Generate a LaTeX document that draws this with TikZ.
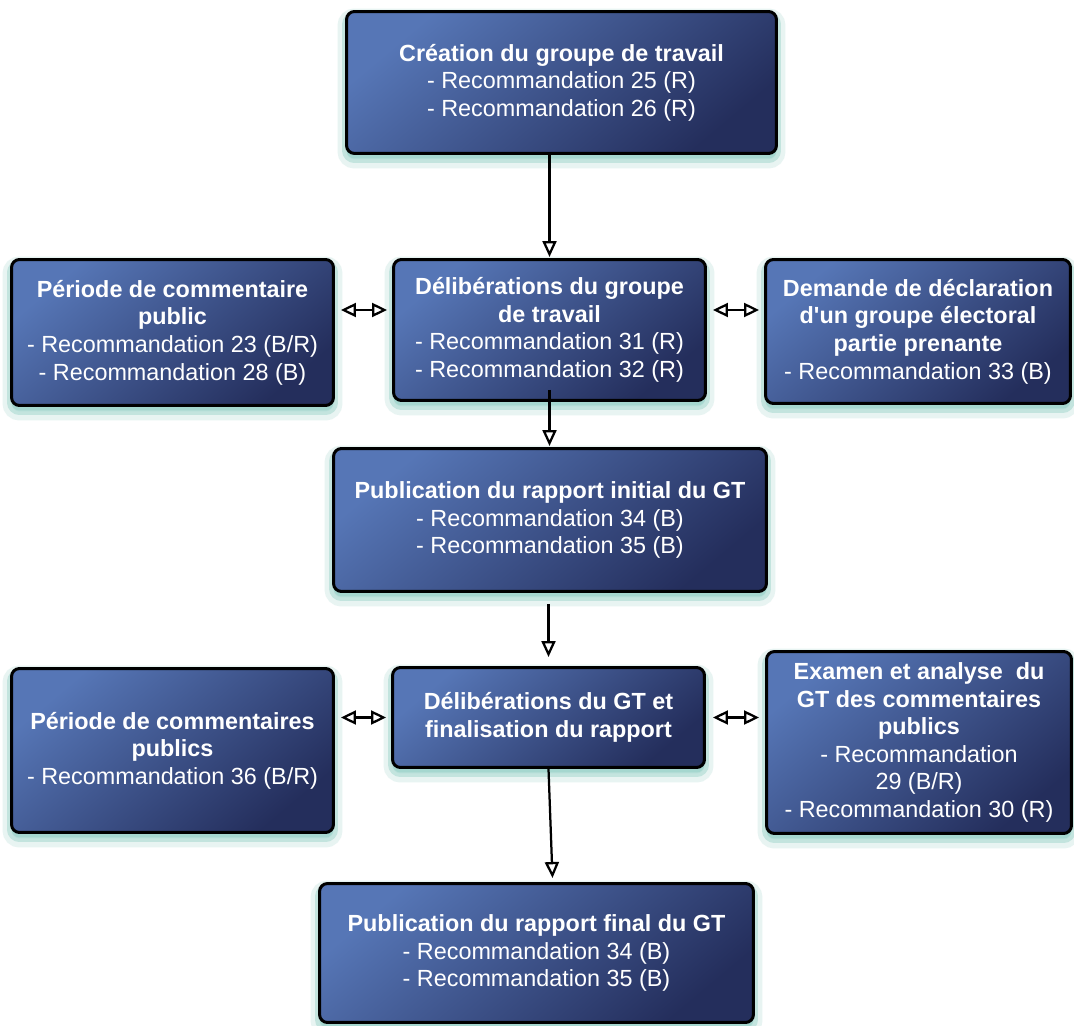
\documentclass[tikz,border=0pt]{standalone}
\usepackage{fontspec}
\setmainfont{Liberation Sans}
\usetikzlibrary{arrows.meta,shadows,calc}
\definecolor{boxA}{RGB}{86,118,182}
\definecolor{boxB}{RGB}{36,46,92}
\definecolor{glow}{RGB}{140,204,194}
\tikzset{
  box/.style={rounded corners=0.16cm, draw=black, line width=0.06cm,
    top color=boxA, bottom color=boxB, shading angle=40,
    text=white, align=center, inner sep=0pt,
    font=\fontsize{13.3}{15.7}\selectfont,
    general shadow={fill=glow, draw=glow, line width=0.36cm, opacity=0.2, shadow yshift=-0.12cm},
    general shadow={fill=glow, draw=glow, line width=0.18cm, opacity=0.4, shadow yshift=-0.1cm}},
  tip/.style={},
  conn/.style={draw=black, line width=0.045cm,
    -{Triangle[open, length=0.32cm, width=0.28cm, line width=0.045cm]}},
  dbl/.style={draw=black, line width=0.045cm,
    {Triangle[open, length=0.3cm, width=0.28cm, line width=0.045cm]}-{Triangle[open, length=0.3cm, width=0.28cm, line width=0.045cm]}}
}
\begin{document}
\begin{tikzpicture}[x=0.02cm, y=-0.02cm]
\useasboundingbox[fill=white] (0,0) rectangle (1074,1026);

\node[box, minimum width=8.60cm, minimum height=2.84cm] (crea) at (561.5,82.5)
  {\textbf{Création du groupe de travail}\\- Recommandation 25 (R)\\- Recommandation 26 (R)};
\node[box, minimum width=6.44cm, minimum height=2.92cm] (peri1) at (172.5,332.5)
  {\textbf{Période de commentaire}\\\textbf{public}\\- Recommandation 23 (B/R)\\- Recommandation 28 (B)};
\node[box, minimum width=6.24cm, minimum height=2.82cm] (delib) at (549.5,330)
  {\textbf{Délibérations du groupe}\\\textbf{de travail}\\- Recommandation 31 (R)\\- Recommandation 32 (R)};
\node[box, minimum width=6.10cm, minimum height=2.88cm] (dem) at (918,331.5)
  {\textbf{Demande de déclaration}\\\textbf{d\textquotesingle un groupe électoral}\\\textbf{partie prenante}\\- Recommandation 33 (B)};
\node[box, minimum width=8.66cm, minimum height=2.86cm] (pubi) at (550,520)
  {\textbf{Publication du rapport initial du GT}\\- Recommandation 34 (B)\\- Recommandation 35 (B)};
\node[box, minimum width=6.44cm, minimum height=3.28cm] (peri2) at (172.5,750.5)
  {\textbf{Période de commentaires}\\\textbf{publics}\\- Recommandation 36 (B/R)};
\node[box, minimum width=6.24cm, minimum height=2.00cm] (delgt) at (548.5,717.5)
  {\textbf{Délibérations du GT et}\\\textbf{finalisation du rapport}};
\node[box, minimum width=6.10cm, minimum height=3.64cm] (exam) at (919,742.5)
  {\textbf{Examen et analyse\ \ du}\\\textbf{GT des commentaires}\\\textbf{publics}\\- Recommandation\\29 (B/R)\\- Recommandation 30 (R)};
\node[box, minimum width=8.68cm, minimum height=2.78cm] (pubf) at (536.5,953)
  {\textbf{Publication du rapport final du GT}\\- Recommandation 34 (B)\\- Recommandation 35 (B)};

% vertical connectors
\draw[conn] (crea.south -| delib.north) -- ($(delib.north)+(0,-1)$);
\draw[conn] ($(delib.south)+(0,-12)$) -- ($(pubi.north -| delib.south)+(0,-1)$);
\draw[conn] ($(pubi.south -| delgt.north)+(0,11)$) -- ($(delgt.north)+(0,-9)$);
\draw[conn] (delgt.south) -- ($(pubf.north)+(16,-4)$);

% double connectors
\draw[dbl] ($(peri1.east |- delib.center)+(6,-20)$) -- ($(delib.west)+(-5,-20)$);
\draw[dbl] ($(delib.east)+(6,-20)$) -- ($(dem.west |- delib.center)+(-5,-20)$);
\draw[dbl] ($(peri2.east |- delgt.center)+(6,0)$) -- ($(delgt.west)+(-5,0)$);
\draw[dbl] ($(delgt.east)+(7,0)$) -- ($(exam.west |- delgt.center)+(-6,0)$);
\end{tikzpicture}
\end{document}
